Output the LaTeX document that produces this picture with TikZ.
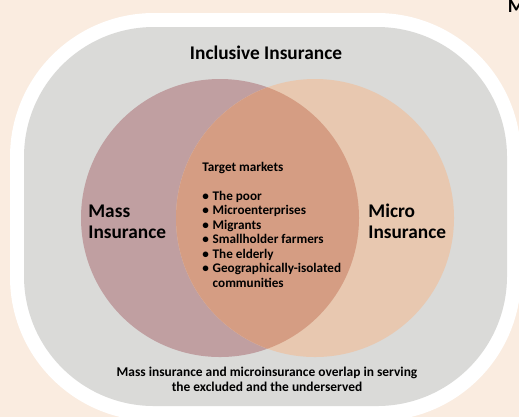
\documentclass[tikz,border=0pt]{standalone}
\usepackage{fontspec}
\setmainfont{Carlito}
\usepackage{tikz}
\usetikzlibrary{positioning,calc}

\definecolor{pagebg}{HTML}{FAECE0}
\definecolor{panel}{HTML}{DADAD8}
\definecolor{masscol}{HTML}{C09FA1}
\definecolor{microcol}{HTML}{E8C8B0}
\definecolor{overlapcol}{HTML}{D59D83}

\begin{document}
\begin{tikzpicture}[x=0.02cm, y=-0.02cm]
    % Styles
    \tikzstyle{big} = [font=\fontsize{11}{11.9}\selectfont\bfseries, align=left, inner sep=0pt]
    \tikzstyle{small} = [font=\fontsize{7.5}{8.2}\selectfont\bfseries, align=left, inner sep=0pt]
    \tikzstyle{note} = [font=\fontsize{7.65}{8.5}\selectfont\bfseries, align=center, inner sep=0pt]

    % Page background (fixes the size)
    \fill[pagebg] (0, 0) rectangle (519, 417);
    \useasboundingbox (0, 0) rectangle (519, 417);

    % Rounded frame: white rim, grey panel
    \fill[white, rounded corners=2.88cm] (10, 13) rectangle (521, 421);
    \fill[panel, rounded corners=2.6cm] (24, 27) rectangle (507, 406);

    % Two circles and their overlap
    \fill[masscol] (220, 218) circle (139);
    \fill[microcol] (315, 218) circle (139);
    \begin{scope}
        \clip (220, 218) circle (139);
        \fill[overlapcol] (315, 218) circle (139);
    \end{scope}

    % Titles (base = last line)
    \node[big, anchor=base] (incl) at (266, 59) {Inclusive Insurance};
    \node[big, anchor=base west] (mass) at (88, 238) {Mass\\Insurance};
    \node[big, anchor=base west] (micro) at (368, 238) {Micro\\Insurance};

    % Target markets in the overlap
    \node[small, anchor=base west] (target) at (202, 171) {Target markets};
    \node[small, anchor=base west] (markets) at (202, 287) {%
        \makebox[5.9pt][l]{\textbullet}The poor\\
        \makebox[5.9pt][l]{\textbullet}Microenterprises\\
        \makebox[5.9pt][l]{\textbullet}Migrants\\
        \makebox[5.9pt][l]{\textbullet}Smallholder farmers\\
        \makebox[5.9pt][l]{\textbullet}The elderly\\
        \makebox[5.9pt][l]{\textbullet}Geographically-isolated\\
        \makebox[5.9pt][l]{}communities};

    % Caption at the bottom of the panel
    \node[note, anchor=base] (caption) at (267, 391) {Mass insurance and microinsurance overlap in serving\\the excluded and the underserved};

    % Cut-off letter at the top right
    \node[big, anchor=base west] (edge) at (507.5, 12) {M};
\end{tikzpicture}
\end{document}
